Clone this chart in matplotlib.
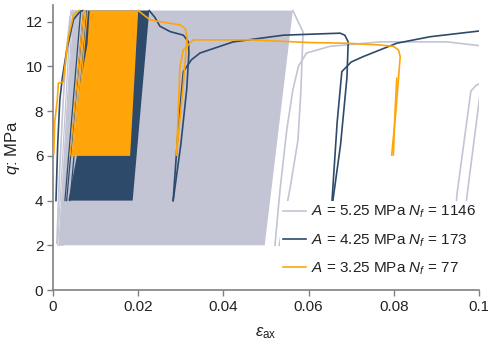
import matplotlib
matplotlib.use('Agg')
import matplotlib.pyplot as plt

plt.rcParams['font.family'] = ['Liberation Sans', 'DejaVu Sans']
plt.rcParams['mathtext.fontset'] = 'custom'
plt.rcParams['mathtext.rm'] = 'Liberation Sans'
plt.rcParams['mathtext.it'] = 'Liberation Sans:italic'
plt.rcParams['mathtext.bf'] = 'Liberation Sans:bold'

# ---------------- data ----------------
labels = ['$A$ = 5.25 MPa $N_f$ = 1146',
          '$A$ = 4.25 MPa $N_f$ = 173',
          '$A$ = 3.25 MPa $N_f$ = 77']
colors = ['#c3c4d4', '#2e4a6b', '#ffa50a']
q_min = [2.0, 4.0, 6.0]
q_max = 12.5

# A = 5.25 MPa (gray)
gray_init_eps = [0.0009, 0.0016, 0.0024, 0.0032, 0.0040, 0.0046]
gray_init_q = [2.1, 5.5, 8.5, 10.8, 12.2, 12.5]
gray_band_eps = [0.0013, 0.0497, 0.0563, 0.0050, 0.0032]
gray_band_q = [2.0, 2.0, 12.5, 12.5, 8.0]
gray_cyc_lo = [0.0011, 0.0015, 0.0019, 0.0023]
gray_cyc_hi = [0.0042, 0.0046, 0.0049, 0.0053]
gray_post1_eps = [0.0563, 0.0587, 0.0582, 0.0575, 0.0556, 0.0531]
gray_post1_q = [12.5, 11.54, 8.95, 6.7, 4.5, 2.0]
gray_post2_eps = [0.0521, 0.0533, 0.0549, 0.0563, 0.0576, 0.0595, 0.0650,
                  0.0768, 0.0925, 0.1002]
gray_post2_q = [2.0, 4.5, 7.2, 8.95, 10.0, 10.6, 10.9, 11.1, 11.1, 10.93]
gray_post3_eps = [0.1004, 0.0972, 0.0960]
gray_post3_q = [9.0, 4.25, 2.0]
gray_post4_eps = [0.0941, 0.0948, 0.0981, 0.0993, 0.1003]
gray_post4_q = [2.0, 4.25, 8.9, 9.15, 9.25]

# A = 4.25 MPa (blue)
blue_init_eps = [0.0007, 0.0011, 0.0016, 0.0022, 0.0032, 0.0048, 0.0063, 0.0070]
blue_init_q = [4.0, 6.5, 8.5, 9.5, 10.7, 12.1, 12.45, 12.5]
blue_band_eps = [0.0036, 0.0187, 0.0226, 0.0078, 0.0056]
blue_band_q = [4.0, 4.0, 12.5, 12.5, 6.0]
blue_cyc_lo = [0.0028, 0.0032, 0.0040]
blue_cyc_hi = [0.0065, 0.0072, 0.0080]
blue_post1_eps = [0.0226, 0.0239, 0.0251, 0.0275, 0.0306, 0.0318, 0.0319,
                  0.0314, 0.0300, 0.0282]
blue_post1_q = [12.5, 12.2, 11.8, 11.56, 11.4, 11.1, 10.6, 9.0, 6.5, 4.0]
blue_post2_eps = [0.0282, 0.0295, 0.0306, 0.0325, 0.0345, 0.0423, 0.0541,
                  0.0674, 0.0685, 0.0693, 0.0690, 0.0675, 0.0657]
blue_post2_q = [4.0, 7.5, 9.77, 10.3, 10.6, 11.1, 11.4, 11.49, 11.4, 11.1,
                9.5, 6.5, 4.0]
blue_post3_eps = [0.0655, 0.0667, 0.0678, 0.0700, 0.0728, 0.0807, 0.0885, 0.1002]
blue_post3_q = [4.0, 7.5, 9.77, 10.2, 10.44, 11.04, 11.33, 11.59]

# A = 3.25 MPa (orange)
orange_init_eps = [0.0002, 0.0004, 0.0010, 0.00125, 0.0024, 0.0028, 0.0036,
                   0.0048, 0.0056, 0.0062]
orange_init_q = [6.1, 7.5, 8.5, 9.25, 9.3, 10.0, 11.3, 12.3, 12.45, 12.5]
orange_band_eps = [0.0046, 0.0181, 0.0200, 0.0086, 0.0081, 0.0062]
orange_band_q = [6.0, 6.0, 12.5, 12.5, 11.0, 9.0]
orange_cyc_lo = [0.0040, 0.0045, 0.0050]
orange_cyc_hi = [0.0072, 0.0076, 0.0081]
orange_post1_eps = [0.0200, 0.0228, 0.0275, 0.0298, 0.0310, 0.0315, 0.0306,
                    0.0290]
orange_post1_q = [12.5, 12.08, 11.93, 11.86, 11.7, 11.3, 9.25, 6.04]
orange_post2_eps = [0.0290, 0.0298, 0.0306, 0.0329, 0.0384, 0.0462, 0.0603,
                    0.0689, 0.0768, 0.0799, 0.0811, 0.0815, 0.0805, 0.0795]
orange_post2_q = [6.04, 10.0, 10.74, 11.19, 11.19, 11.19, 11.07, 11.04, 10.96,
                  10.9, 10.74, 10.44, 8.0, 6.04]
orange_post3_eps = [0.0799, 0.0803, 0.0807]
orange_post3_q = [6.04, 8.0, 9.47]

x_ticks = [0, 0.02, 0.04, 0.06, 0.08, 0.1]
x_ticklabels = ['0', '0.02', '0.04', '0.06', '0.08', '0.1']
y_ticks = [0, 2, 4, 6, 8, 10, 12]

# ---------------- plot ----------------
fig = plt.figure(figsize=(4.89, 3.47), dpi=100)
ax = fig.add_axes([53 / 489, 1 - 290 / 347, (479 - 53) / 489, (290 - 5) / 347])

series = [
    (gray_init_eps, gray_init_q, gray_band_eps, gray_band_q, gray_cyc_lo, gray_cyc_hi,
     [(gray_post1_eps, gray_post1_q), (gray_post2_eps, gray_post2_q),
      (gray_post3_eps, gray_post3_q), (gray_post4_eps, gray_post4_q)]),
    (blue_init_eps, blue_init_q, blue_band_eps, blue_band_q, blue_cyc_lo, blue_cyc_hi,
     [(blue_post1_eps, blue_post1_q), (blue_post2_eps, blue_post2_q),
      (blue_post3_eps, blue_post3_q)]),
    (orange_init_eps, orange_init_q, orange_band_eps, orange_band_q, orange_cyc_lo,
     orange_cyc_hi,
     [(orange_post1_eps, orange_post1_q), (orange_post2_eps, orange_post2_q),
      (orange_post3_eps, orange_post3_q)]),
]

lw = 1.2
for i, (ie, iq, be, bq, clo, chi, posts) in enumerate(series):
    c = colors[i]
    ax.fill(be, bq, color=c, lw=0, zorder=2 + i)
    for lo, hi in zip(clo, chi):
        ax.plot([lo, hi], [q_min[i], q_max], color=c, lw=0.9, zorder=2 + i)
    ax.plot(ie, iq, color=c, lw=lw, zorder=2 + i, label=labels[i])
    for pe, pq in posts:
        ax.plot(pe, pq, color=c, lw=lw, zorder=2 + i)

ax.set_xlim(0, 0.1)
ax.set_ylim(0, 12.75)
ax.set_xticks(x_ticks)
ax.set_xticklabels(x_ticklabels)
ax.set_yticks(y_ticks)

spine_c = '#808080'
for s in ['top', 'right']:
    ax.spines[s].set_visible(False)
for s in ['left', 'bottom']:
    ax.spines[s].set_color(spine_c)
    ax.spines[s].set_linewidth(1.2)
ax.tick_params(direction='out', length=4, width=1.0, color=spine_c,
               labelsize=11, labelcolor='#222222', pad=3)

ax.set_xlabel('$\\epsilon_{\\mathrm{ax}}$', fontsize=12, color='#222222', labelpad=8)
ax.set_ylabel('$q$: MPa', fontsize=12, color='#222222', labelpad=3)

leg = ax.legend(loc='upper left', bbox_to_anchor=(280 / 489, 1 - 201 / 347),
                bbox_transform=fig.transFigure, frameon=True, fontsize=11,
                handlelength=1.5, handletextpad=0.35, labelspacing=0.78,
                borderpad=0.2, borderaxespad=0)
leg.get_frame().set_facecolor('white')
leg.get_frame().set_edgecolor('none')
leg.get_frame().set_alpha(1.0)
leg.set_zorder(10)
for t in leg.get_texts():
    t.set_color('#222222')

fig.savefig('out.png', dpi=100)
